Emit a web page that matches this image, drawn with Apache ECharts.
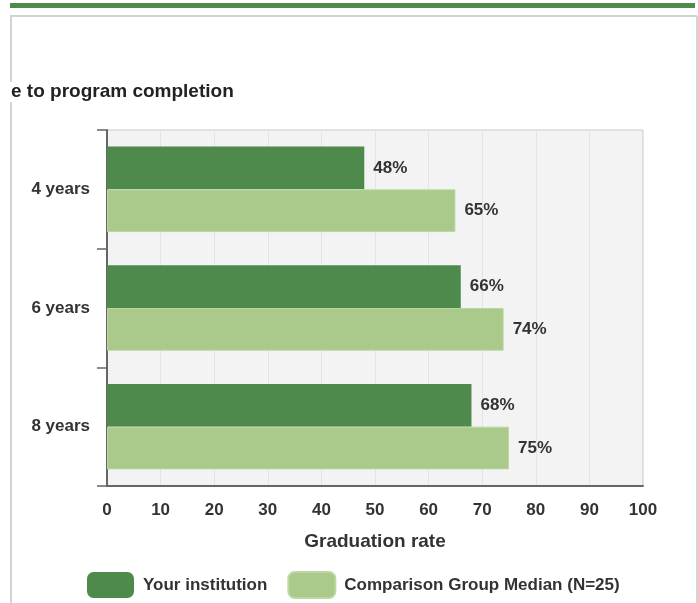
<!DOCTYPE html>
<html>
<head>
<meta charset="utf-8">
<script src="https://cdn.jsdelivr.net/npm/echarts@6/dist/echarts.min.js"></script>
<style>
html,body{margin:0;padding:0;background:#fff;}
#c{width:698px;height:603px;}
</style>
</head>
<body>
<div id="c"></div>
<script>
const categories = ['4 years', '6 years', '8 years'];
const yourInstitution = [48, 66, 68];
const comparisonMedian = [65, 74, 75];
const xTicks = [0, 10, 20, 30, 40, 50, 60, 70, 80, 90, 100];
const seriesNames = ['Your institution', 'Comparison Group Median (N=25)'];
const titleText = 'e to program completion';
const axisName = 'Graduation rate';

const FONT = '"Liberation Sans", Arial, Helvetica, sans-serif';
const DARK = '#4e8a4c';
const LIGHT = '#a9ca8a';

const chart = echarts.init(document.getElementById('c'), null, {renderer: 'canvas'});
chart.setOption({
  backgroundColor: '#fff',
  animation: false,
  graphic: [
    {type: 'rect', shape: {x: 10, y: 3, width: 685, height: 5}, style: {fill: DARK}, silent: true},
    {type: 'line', shape: {x1: 10, y1: 16, x2: 697, y2: 16}, style: {stroke: '#d3d3d3', lineWidth: 2}},
    {type: 'line', shape: {x1: 697, y1: 16, x2: 697, y2: 603}, style: {stroke: '#d3d3d3', lineWidth: 2}},
    {type: 'line', shape: {x1: 11, y1: 15, x2: 11, y2: 82}, style: {stroke: '#d3d3d3', lineWidth: 2}},
    {type: 'line', shape: {x1: 11, y1: 102, x2: 11, y2: 603}, style: {stroke: '#d3d3d3', lineWidth: 2}},
    {type: 'text', x: 11, y: 92, style: {text: titleText, fill: '#222', font: 'bold 19px ' + FONT, verticalAlign: 'middle'}}
  ],
  grid: {
    left: 107, top: 130, right: 55, bottom: 117,
    show: true, backgroundColor: '#f3f3f3', borderColor: '#c8c8c8', borderWidth: 1,
    containLabel: false
  },
  legend: {
    left: 87, top: 571, padding: 0,
    itemWidth: 47, itemHeight: 26, itemGap: 20,
    icon: 'roundRect',
    textStyle: {fontFamily: FONT, fontWeight: 'bold', fontSize: 17, color: '#333', padding: [0, 0, 0, 4]},
    data: seriesNames
  },
  xAxis: {
    type: 'value', min: 0, max: 100, interval: 10,
    name: axisName, nameLocation: 'middle', nameGap: 46,
    nameTextStyle: {fontFamily: FONT, fontWeight: 'bold', fontSize: 19, color: '#333'},
    axisLine: {show: true, lineStyle: {color: '#666', width: 2}},
    axisTick: {show: false},
    axisLabel: {
      margin: 16, fontFamily: FONT, fontWeight: 'bold', fontSize: 17, color: '#333',
      formatter: function (v) { return xTicks.indexOf(v) >= 0 ? String(v) : ''; }
    },
    splitLine: {show: true, lineStyle: {color: '#dfe4f2', width: 1}}
  },
  yAxis: {
    type: 'category', data: categories, inverse: true,
    axisLine: {show: true, lineStyle: {color: '#666', width: 2}},
    axisTick: {show: true, length: 10, lineStyle: {color: '#666', width: 1.5}},
    axisLabel: {margin: 17, fontFamily: FONT, fontWeight: 'bold', fontSize: 17, color: '#333'},
    splitLine: {show: false}
  },
  series: [
    {
      name: seriesNames[0], type: 'bar', data: yourInstitution,
      barGap: '0%', barCategoryGap: '28%',
      itemStyle: {color: DARK},
      label: {show: true, position: 'right', distance: 9, formatter: '{c}%',
        fontFamily: FONT, fontWeight: 'bold', fontSize: 17, color: '#333'}
    },
    {
      name: seriesNames[1], type: 'bar', data: comparisonMedian,
      barGap: '0%', barCategoryGap: '28%',
      itemStyle: {color: LIGHT, borderColor: '#bcd7a4', borderWidth: 1},
      label: {show: true, position: 'right', distance: 9, formatter: '{c}%',
        fontFamily: FONT, fontWeight: 'bold', fontSize: 17, color: '#333'}
    }
  ]
});
</script>
</body>
</html>
